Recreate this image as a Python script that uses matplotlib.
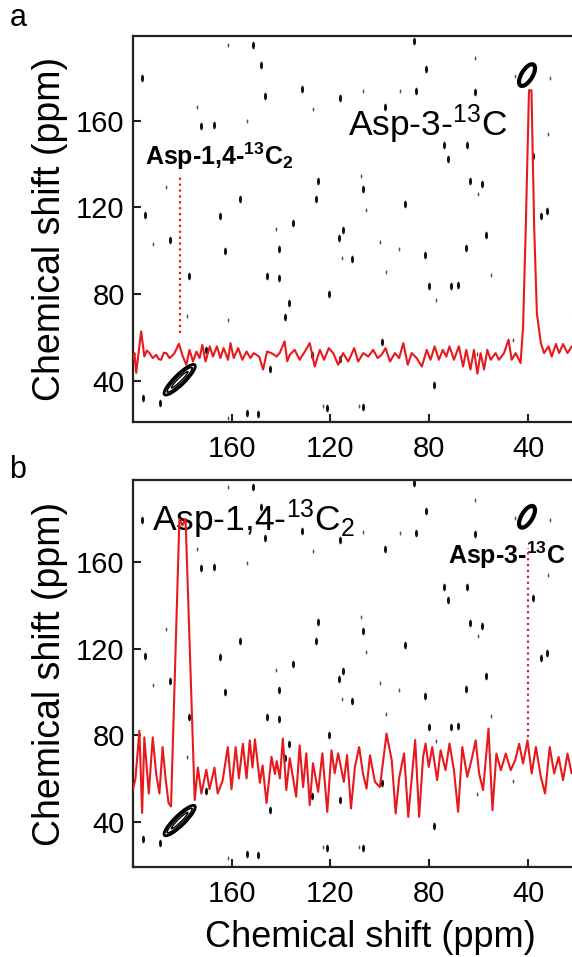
import matplotlib
matplotlib.use('Agg')
import matplotlib.pyplot as plt
from matplotlib.patches import Ellipse
from matplotlib.path import Path
from matplotlib.transforms import Affine2D

plt.rcParams['font.family'] = ['Liberation Sans', 'DejaVu Sans']
plt.rcParams['mathtext.fontset'] = 'custom'
plt.rcParams['mathtext.rm'] = 'Liberation Sans'
plt.rcParams['mathtext.it'] = 'Liberation Sans:italic'
plt.rcParams['mathtext.bf'] = 'Liberation Sans:bold'

# ticks (ppm)
x_ticks = [160, 120, 80, 40]
y_ticks = [40, 80, 120, 160]

# 1D slice, panel a (Asp-3-13C)
a_ppm = [200.0, 199.4, 198.7, 196.7, 195.4, 194.4, 193.3, 192.0, 190.6, 189.6,
         188.6, 187.5, 186.5, 185.2, 184.2, 183.2, 181.4, 179.8, 178.4, 177.1,
         175.7, 174.3, 173.0, 171.9, 170.6, 168.9, 167.6, 166.0, 164.6, 163.3,
         161.5, 160.5, 159.2, 157.4, 155.7, 154.0, 152.4, 151.1, 148.9, 147.3,
         145.7, 143.9, 141.8, 140.5, 138.6, 137.5, 136.5, 134.5, 132.5, 130.4,
         128.4, 126.4, 124.3, 122.6, 120.7, 118.9, 116.9, 114.9, 112.8, 110.4,
         108.8, 106.7, 104.7, 102.7, 100.9, 99.3, 97.7, 95.9, 93.9, 92.2,
         90.5, 88.7, 87.1, 85.1, 83.0, 81.0, 79.5, 77.8, 76.1, 74.5,
         73.1, 71.8, 70.0, 68.0, 66.3, 65.0, 63.3, 61.9, 60.5, 59.2,
         57.8, 56.5, 55.1, 53.1, 51.8, 49.7, 47.9, 46.6, 45.0, 43.0,
         42.0, 40.9, 39.6, 38.6, 37.5, 36.4, 34.8, 33.5, 31.7, 30.4,
         28.7, 27.4, 25.8, 24.0, 22.3, 21.0]
a_int = [50.0, 52.8, 43.7, 62.8, 51.2, 54.0, 52.8, 50.5, 52.0, 50.0,
         49.7, 53.0, 52.8, 50.5, 51.5, 52.8, 57.1, 51.2, 47.4, 54.3,
         48.9, 53.5, 50.5, 56.6, 48.9, 55.9, 51.2, 55.9, 50.5, 55.1,
         49.7, 57.4, 50.5, 55.1, 49.7, 53.5, 50.5, 52.8, 51.2, 45.2,
         53.5, 52.8, 51.2, 53.0, 58.2, 49.0, 52.0, 54.3, 49.7, 53.5,
         57.4, 46.6, 54.3, 49.7, 55.1, 52.8, 47.4, 52.8, 48.9, 55.1,
         48.9, 52.8, 51.2, 54.3, 50.5, 52.0, 55.1, 48.9, 52.8, 50.5,
         57.4, 47.4, 52.8, 50.5, 46.6, 54.3, 49.7, 55.9, 49.7, 54.3,
         51.2, 55.9, 49.7, 55.9, 46.6, 54.3, 45.2, 54.3, 43.3, 52.8,
         45.2, 54.3, 49.7, 52.8, 49.7, 52.8, 59.0, 49.7, 52.8, 48.2,
         65.0, 111.0, 174.0, 174.0, 111.0, 71.0, 57.4, 52.8, 55.9, 51.2,
         57.0, 52.8, 57.0, 52.8, 55.9, 54.0]

# 1D slice, panel b (Asp-1,4-13C2)
b_ppm = [200.0, 199.0, 197.4, 196.3, 195.4, 193.6, 192.0, 190.6, 189.3, 188.0,
         186.8, 185.6, 184.6, 181.2, 180.0, 178.7, 175.0, 173.7, 172.3, 170.3,
         169.0, 167.0, 165.7, 163.7, 161.6, 160.1, 158.4, 157.1, 155.5, 154.0,
         152.7, 151.6, 150.6, 148.6, 147.5, 145.9, 143.9, 142.5, 141.8, 140.5,
         139.3, 137.9, 136.5, 133.9, 132.5, 131.1, 129.8, 128.4, 127.1, 125.0,
         123.3, 121.3, 119.6, 118.3, 116.9, 114.6, 113.3, 111.7, 110.1, 108.4,
         106.8, 105.4, 104.0, 102.0, 100.0, 97.3, 95.2, 93.6, 92.2, 90.2,
         88.5, 85.7, 84.1, 82.5, 81.5, 80.2, 78.8, 76.8, 75.4, 73.4,
         71.8, 70.0, 68.3, 66.6, 64.6, 62.6, 61.2, 59.8, 58.2, 56.0,
         54.4, 52.8, 51.0, 49.0, 47.0, 45.2, 43.6, 42.0, 40.2, 38.5,
         36.8, 34.8, 33.1, 31.2, 29.4, 27.6, 25.8, 24.0, 22.3, 21.0]
b_int = [55.0, 60.0, 82.0, 44.0, 79.0, 53.0, 79.0, 62.0, 53.0, 74.5,
         60.0, 48.6, 47.0, 180.0, 177.0, 180.0, 50.0, 65.0, 53.0, 64.0,
         55.0, 65.0, 53.0, 59.0, 74.5, 55.0, 74.5, 60.0, 76.0, 60.0,
         77.6, 65.0, 78.0, 58.0, 66.0, 48.6, 70.0, 62.0, 68.0, 60.0,
         78.4, 54.6, 69.3, 51.5, 75.3, 56.0, 71.6, 47.6, 67.0, 53.8,
         71.6, 44.5, 73.0, 62.4, 71.6, 58.4, 70.8, 46.1, 65.3, 74.5,
         62.0, 55.3, 70.7, 58.4, 56.0, 80.7, 68.4, 43.8, 60.1, 71.6,
         42.2, 77.8, 42.2, 69.9, 76.1, 65.3, 74.5, 59.2, 73.0, 63.8,
         76.1, 63.8, 44.5, 74.5, 60.7, 69.9, 77.6, 62.3, 54.6, 83.0,
         45.3, 71.5, 63.8, 71.5, 63.8, 68.4, 76.0, 66.9, 77.6, 62.3,
         74.5, 60.7, 53.0, 74.5, 62.3, 69.9, 59.2, 71.5, 62.3, 66.0]

# 2D noise contours (ppm), same spectrum in both panels
dash_x = [172.4, 167.3, 195.2, 185.0, 177.3, 196.0, 189.0, 164.9, 162.8, 156.7,
          153.9, 149.3, 145.6, 140.8, 140.8, 136.9, 138.5, 135.0, 124.9, 125.9,
          120.8, 114.9, 116.7, 111.2, 107.0, 121.5, 107.0, 99.1, 89.8, 81.8,
          79.9, 71.2, 68.4, 73.9, 72.6, 64.7, 63.3, 58.8, 57.0, 65.0,
          32.2, 34.7, 21.6, 38.1, 196.5, 151.2, 148.2, 146.7, 131.5, 116.3,
          97.8, 85.2, 86.0, 81.5, 61.4, 144.6, 116.0, 127.5, 78.0, 170.4]
dash_y = [157.3, 158.0, 116.6, 105.0, 88.5, 32.0, 30.0, 116.0, 99.8, 123.7,
          25.0, 24.8, 88.2, 87.3, 101.0, 76.0, 69.3, 112.7, 132.3, 123.7,
          80.0, 109.7, 106.0, 96.0, 128.4, 27.6, 27.8, 58.0, 121.7, 97.9,
          83.9, 83.9, 84.1, 148.7, 142.5, 148.7, 132.0, 130.7, 107.3, 101.4,
          118.2, 115.9, 71.4, 143.6, 179.6, 194.8, 185.5, 171.2, 174.6, 170.4,
          166.1, 173.7, 196.5, 183.9, 173.0, 45.5, 50.0, 52.0, 38.0, 54.4]
speck_x = [186.5, 191.7, 178.0, 142.0, 161.7, 115.3, 105.6, 100.1, 97.4, 92.3,
           77.4, 55.1, 60.2, 46.0, 32.0, 21.6, 161.6, 174.2, 127.0, 106.7,
           91.9, 61.4, 45.1, 31.1, 60.8, 108.3, 122.9, 153.9, 107.7, 161.4]
speck_y = [129.2, 103.0, 70.0, 110.0, 68.2, 96.8, 118.6, 104.0, 90.0, 101.0,
           77.5, 89.0, 126.0, 59.0, 154.0, 25.0, 194.8, 166.1, 165.3, 173.8,
           173.7, 188.9, 180.5, 179.6, 52.6, 28.5, 28.4, 159.7, 134.6, 23.0]

red = '#e8191c'
# small upright oval used for the noise contours
oval = Path.unit_circle().transformed(Affine2D().scale(0.4, 1.0))

fig = plt.figure(figsize=(5.72, 9.57), dpi=100)
ax_a = fig.add_axes([0.2325, 0.559, 0.8287, 0.4033])
ax_b = fig.add_axes([0.2325, 0.094, 0.8287, 0.4044])


def draw_panel(ax, ppm, inten, ylim):
    # scattered noise of the 2D map
    ax.plot(dash_x, dash_y, ls='none', marker=oval, ms=5.5, mew=0, color='#111111', zorder=2)
    ax.plot(speck_x, speck_y, ls='none', marker=oval, ms=3, mew=0, color='#555555', zorder=2)
    # diagonal peak (lower left)
    for w, h, lw in [(18.4, 4.6, 2.0), (15.0, 2.9, 1.2), (10.0, 1.4, 1.0)]:
        ax.add_patch(Ellipse((181.1, 40.5), w, h, angle=131.5, fill=False,
                             ec='black', lw=lw, zorder=3))
    # cross peak (upper right)
    ax.add_patch(Ellipse((40.4, 181.0), 11.0, 4.6, angle=117, fill=False,
                         ec='black', lw=3.0, zorder=3))
    # 1D slice
    ax.plot(ppm, inten, color=red, lw=1.5, zorder=4)

    ax.set_xlim(200, 8)
    ax.set_ylim(*ylim)
    ax.set_xticks(x_ticks)
    ax.set_yticks(y_ticks)
    ax.tick_params(direction='in', length=6, width=1.5, labelsize=21, color='#222222')
    ax.tick_params(axis='x', pad=9)
    ax.tick_params(axis='y', pad=6)
    for s in ax.spines.values():
        s.set_linewidth(1.6)
        s.set_color('#222222')
    ax.set_ylabel('Chemical shift (ppm)', fontsize=27, labelpad=6)


draw_panel(ax_a, a_ppm, a_int, (21, 199))
draw_panel(ax_b, b_ppm, b_int, (19, 198))

# panel a annotations
ax_a.plot([181, 181], [62, 135], color=red, ls=':', lw=1.6, zorder=4)
ax_a.text(113, 152.8, r'Asp-3-$^{13}$C', fontsize=25.5, ha='left', va='baseline')
ax_a.text(195.2, 139.7, r'Asp-1,4-$^{\mathbf{13}}\mathbf{C}_{\mathbf{2}}$',
          fontsize=18, fontweight='bold', ha='left', va='baseline')

# panel b annotations
ax_b.plot([40, 40], [79, 166.7], color=red, ls=':', lw=1.6, zorder=4)
ax_b.text(192.5, 174.5, r'Asp-1,4-$^{13}$C$_2$', fontsize=25.5, ha='left', va='baseline')
ax_b.text(72.3, 159.2, r'Asp-3-$^{\mathbf{13}}\mathbf{C}$',
          fontsize=18, fontweight='bold', ha='left', va='baseline')
ax_b.set_xlabel('Chemical shift (ppm)', fontsize=26, labelpad=9)

fig.text(18 / 572, 1 - 18 / 957, 'a', fontsize=22, ha='center', va='center')
fig.text(18 / 572, 1 - 470 / 957, 'b', fontsize=22, ha='center', va='center')

fig.savefig('out.png', dpi=100)
